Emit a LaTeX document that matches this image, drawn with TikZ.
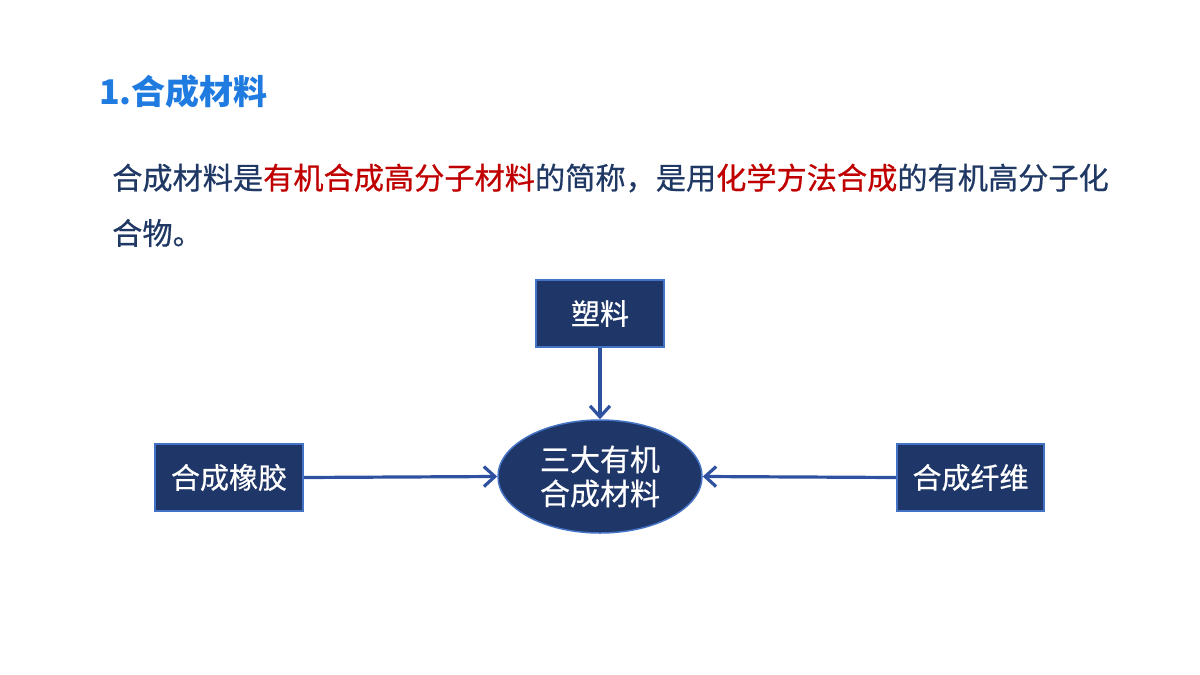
\documentclass[tikz,border=0pt]{standalone}
\usepackage{fontspec}
\setmainfont{Noto Sans CJK SC}
\newfontfamily\medfont[FakeBold=0.6]{Noto Sans CJK SC}
\usetikzlibrary{arrows.meta,shapes.geometric}
\definecolor{navy}{HTML}{1F3864}
\definecolor{boxfill}{HTML}{1F3668}
\definecolor{boxline}{HTML}{4472C4}
\definecolor{arrowc}{HTML}{2F52A0}
\definecolor{titleblue}{HTML}{1F7BE0}
\definecolor{redt}{HTML}{C00000}
\tikzset{
  box/.style={draw=boxline, line width=2pt, fill=boxfill, text=white, font=\medfont\fontsize{29}{34}\selectfont, inner sep=0pt},
  conn/.style={draw=arrowc, line width=3.2pt, -{Straight Barb[length=11pt,width=20pt,line width=3.2pt]}},
  para/.style={anchor=west, inner sep=0pt, text=navy, font=\medfont\fontsize{30.2}{34}\selectfont},
}
\begin{document}
\begin{tikzpicture}[x=1pt,y=-1pt]
\useasboundingbox (0,0) rectangle (1200,675);
\node[anchor=west, inner sep=0pt, text=titleblue, font=\fontsize{34}{38}\selectfont\bfseries] (title) at (99,92) {1.合成材料};
\node[para] (line1) at (112,178) {合成材料是\textcolor{redt}{有机合成高分子材料}的简称，是用\textcolor{redt}{化学方法合成}的有机高分子化};
\node[para] (line2) at (112,233) {合物。};
\node[box, minimum width=128pt, minimum height=67pt] (plastic) at (600,313.5) {塑料};
\node[box, minimum width=148pt, minimum height=67pt] (rubber) at (229,477.5) {合成橡胶};
\node[box, minimum width=147pt, minimum height=67pt] (fiber) at (970.5,477.5) {合成纤维};
\node[ellipse, draw=boxline, line width=1.5pt, fill=boxfill, text=white, minimum width=204pt, minimum height=113pt, inner sep=0pt, align=center, font=\medfont\fontsize{30}{34}\selectfont] (center) at (600,476.5) {三大有机\\合成材料};
\draw[conn] (plastic.south) -- (center.north);
\draw[conn] (rubber.east) -- (center.west);
\draw[conn] (fiber.west) -- (center.east);
\end{tikzpicture}
\end{document}
